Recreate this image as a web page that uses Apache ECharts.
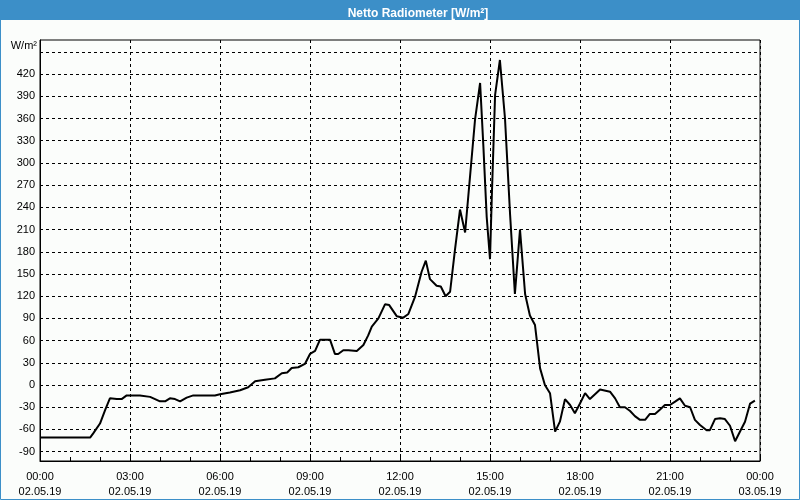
<!DOCTYPE html>
<html>
<head>
<meta charset="utf-8">
<script src="https://cdn.jsdelivr.net/npm/echarts@6/dist/echarts.min.js"></script>
<style>
html,body{margin:0;padding:0;background:#fbfdfb;}
#chart{width:800px;height:500px;}
</style>
</head>
<body>
<div id="chart"></div>
<script>
// time in hours after 02.05.19 00:00
var hours = [0,1.67,1.78,2.0,2.17,2.33,2.56,2.72,2.89,3.33,3.67,4.0,4.17,4.33,4.5,4.67,4.89,5.11,5.83,6.0,6.33,6.67,6.94,7.17,7.5,7.83,8.06,8.24,8.39,8.61,8.83,9.0,9.17,9.33,9.67,9.83,9.94,10.11,10.28,10.56,10.78,10.94,11.06,11.28,11.5,11.64,11.89,12.11,12.28,12.5,12.72,12.86,13.0,13.22,13.36,13.52,13.67,13.83,14.0,14.17,14.5,14.67,14.78,14.89,15.0,15.06,15.17,15.33,15.5,15.67,15.83,16.0,16.17,16.33,16.5,16.67,16.83,17.0,17.17,17.33,17.5,17.67,17.83,18.0,18.17,18.33,18.67,19.0,19.17,19.33,19.5,19.67,19.83,20.0,20.17,20.33,20.5,20.67,20.83,21.0,21.17,21.33,21.5,21.67,21.83,22.0,22.22,22.33,22.5,22.67,22.83,23.0,23.17,23.33,23.5,23.67,23.83];
var netRadiation = [-71,-71,-65,-52,-34,-18,-19,-19,-14,-14,-16,-22,-22,-18,-19,-22,-17,-14,-14,-12.5,-10,-7,-3,5,7,9,16,17,23,24,28.5,42,46,61,61,42,42,47,47,46,54,67,79,90,109,108,93,91,96,119,153,168,143,134,133,120,126,182,237,206,358,408,322,227,170,254,392,439,360,230,123,210,123,94,81,22.5,0,-11,-63,-49.5,-19,-27,-38,-25,-11,-19,-6,-9,-18,-30,-30,-35,-42,-47,-47,-39,-39,-33,-27,-27,-22.5,-18,-28,-30,-47,-54,-61,-61,-46,-45,-46,-55,-76,-63,-49.5,-25,-21];
var xTickTimes = ['00:00','03:00','06:00','09:00','12:00','15:00','18:00','21:00','00:00'];
var xTickDates = ['02.05.19','02.05.19','02.05.19','02.05.19','02.05.19','02.05.19','02.05.19','02.05.19','03.05.19'];
var yGridValues = [-90,-60,-30,0,30,60,90,120,150,180,210,240,270,300,330,360,390,420,450];
var yLabelValues = [-90,-60,-30,0,30,60,90,120,150,180,210,240,270,300,330,360,390,420];
var titleText = 'Netto Radiometer [W/m²]';
var unitText = 'W/m²';

var series = hours.map(function(h, i){ return [h, netRadiation[i]]; });
var chart = echarts.init(document.getElementById('chart'), null, {renderer:'canvas'});
var font = 'Liberation Sans, Arial, sans-serif';
chart.setOption({
  backgroundColor: '#fbfdfb',
  animation: false,
  textStyle: {fontFamily: font},
  title: {
    text: titleText,
    left: 413, top: 3, textAlign: 'center',
    textStyle: {color: '#ffffff', fontSize: 12, fontWeight: 'bold', fontFamily: 'Liberation Sans Narrow, Liberation Sans, sans-serif'}
  },
  graphic: [
    {type:'rect', z:-10, shape:{x:0,y:0,width:800,height:20}, style:{fill:'#3c8fc8'}},
    {type:'rect', z:100, shape:{x:0.5,y:0.5,width:799,height:499}, style:{fill:null, stroke:'#3c8fc8', lineWidth:1}}
  ],
  grid: {left: 40, right: 40, top: 40, bottom: 39, show: true, borderColor: '#000', borderWidth: 1, backgroundColor: 'transparent'},
  xAxis: {
    type: 'value', min: 0, max: 24, interval: 3,
    axisLine: {onZero: false, lineStyle: {color: '#000'}},
    axisTick: {show: true, inside: true, length: 4, lineStyle: {color: '#000'}},
    minorTick: {show: true, splitNumber: 3, length: 4, lineStyle: {color: '#000'}},
    splitLine: {show: true, lineStyle: {color: '#000', type: [3,3], width: 1}},
    axisLabel: {
      color: '#000', fontSize: 11, lineHeight: 15, margin: 8, fontFamily: font,
      formatter: function(v){ var i = Math.round(v/3); return xTickTimes[i] + '\n' + xTickDates[i]; }
    }
  },
  yAxis: {
    type: 'value', min: -102.6, max: 466,
    name: unitText, nameLocation: 'end', nameGap: -6,
    nameTextStyle: {color: '#000', fontSize: 11, align: 'right', verticalAlign: 'middle', padding: [0, 3, 0, 0], fontFamily: font},
    axisLine: {show: true, onZero: false, lineStyle: {color: '#000'}},
    axisTick: {show: true, length: 0, customValues: yGridValues, lineStyle: {color: 'transparent'}},
    axisLabel: {color: '#000', fontSize: 11, margin: 5, customValues: yLabelValues, fontFamily: font},
    splitLine: {show: true, lineStyle: {color: '#000', type: [3,3], width: 1}}
  },
  series: [{
    type: 'line', data: series, showSymbol: false, symbol: 'none',
    lineStyle: {color: '#000', width: 2}, z: 5
  }]
});
</script>
</body>
</html>
